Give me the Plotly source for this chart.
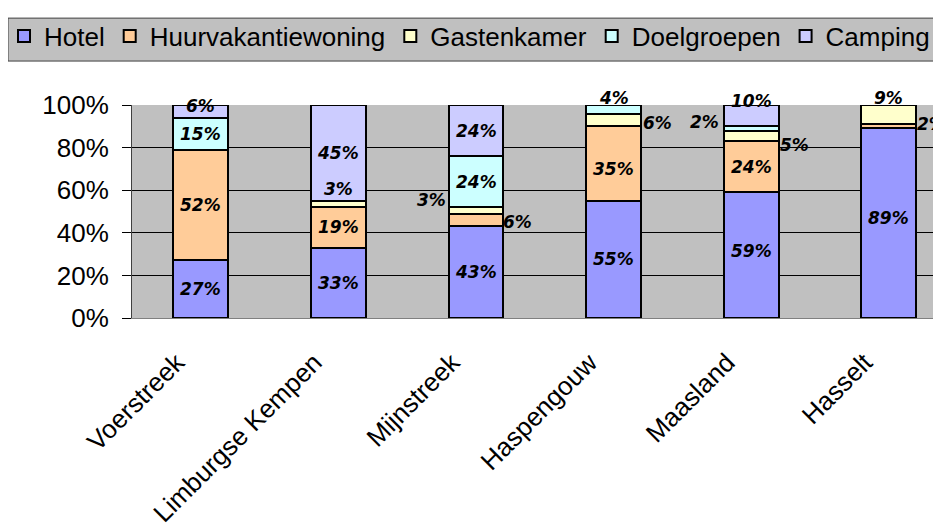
import plotly.graph_objects as go

categories = ["Voerstreek", "Limburgse Kempen", "Mijnstreek", "Haspengouw", "Maasland", "Hasselt"]
series_names = ["Hotel", "Huurvakantiewoning", "Gastenkamer", "Doelgroepen", "Camping"]
hotel = [27, 33, 43, 55, 59, 89]
huurvakantiewoning = [52, 19, 6, 35, 24, 2]
gastenkamer = [0, 3, 3, 6, 5, 9]
doelgroepen = [15, 0, 24, 4, 2, 0]
camping = [6, 45, 24, 0, 10, 0]
y_ticks = [0, 20, 40, 60, 80, 100]

series_values = [hotel, huurvakantiewoning, gastenkamer, doelgroepen, camping]
colors = ["#9999FF", "#FFCC99", "#FFFFCC", "#CCFFFF", "#CCCCFF"]

# label offsets (pixels) for labels that sit outside / away from their segment
label_shift = {
    ("Camping", "Voerstreek"): (0, 5),
    ("Gastenkamer", "Limburgse Kempen"): (0, 15),
    ("Huurvakantiewoning", "Mijnstreek"): (41, -2),
    ("Gastenkamer", "Mijnstreek"): (-45, 10),
    ("Huurvakantiewoning", "Haspengouw"): (0, -5),
    ("Gastenkamer", "Haspengouw"): (44, -3),
    ("Doelgroepen", "Haspengouw"): (0, 11),
    ("Camping", "Maasland"): (0, 15),
    ("Doelgroepen", "Maasland"): (-47, 6),
    ("Gastenkamer", "Maasland"): (43, -9),
    ("Hotel", "Maasland"): (0, 4),
    ("Hotel", "Hasselt"): (0, 5),
    ("Huurvakantiewoning", "Hasselt"): (43, 2),
    ("Gastenkamer", "Hasselt"): (0, 17),
}

fig = go.Figure()
for name, vals, col in zip(series_names, series_values, colors):
    fig.add_trace(go.Bar(
        name=name, x=categories, y=vals,
        marker=dict(color=col, line=dict(color="black", width=2)),
        hoverinfo="skip",
    ))

annotations = []
base = [0] * len(categories)
for name, vals in zip(series_names, series_values):
    for i, (c, v) in enumerate(zip(categories, vals)):
        if v > 0:
            dx, dy = label_shift.get((name, c), (0, 0))
            annotations.append(dict(
                x=c, y=base[i] + v / 2, xref="x", yref="y",
                text=f"{v}%", showarrow=False, xshift=dx, yshift=dy,
                font=dict(family="DejaVu Sans", size=17, color="black",
                          weight="bold", style="italic"),
            ))
        base[i] += v

# page body has an 8px margin: work in screen pixels, convert to figure pixels
OFF = 8
L, T, PW, PH = 132 - OFF, 105 - OFF, 809 + OFF, 213.3
W, H = 941, 527

def px_to_paper_x(px):
    return (px - OFF - L) / PW
def px_to_paper_y(py):
    return (T + PH - (py - OFF)) / PH

fig.update_layout(
    width=W, height=H,
    margin=dict(l=L, r=W - L - PW, t=T, b=H - T - PH, autoexpand=False),
    barmode="stack", bargap=0.603,
    paper_bgcolor="white", plot_bgcolor="#C0C0C0",
    font=dict(family="Liberation Sans, Arial, sans-serif", color="black"),
    showlegend=True,
    legend=dict(
        orientation="h", traceorder="normal",
        x=px_to_paper_x(4), xanchor="left",
        y=px_to_paper_y(36), yanchor="middle",
        bgcolor="rgba(0,0,0,0)", borderwidth=0,
        font=dict(family="Liberation Sans, Arial, sans-serif", size=26, color="black"),
        itemwidth=30, itemclick=False,
    ),
    shapes=[dict(
        type="rect", xref="paper", yref="paper",
        x0=px_to_paper_x(8), x1=px_to_paper_x(960),
        y0=px_to_paper_y(61), y1=px_to_paper_y(18),
        fillcolor="#C0C0C0", line=dict(color="#404040", width=1), layer="below",
    )],
    annotations=annotations,
    xaxis=dict(
        range=[-0.5, -0.5 + PW / 137.6], tickangle=-45,
        tickfont=dict(size=26, family="Liberation Sans, Arial, sans-serif"),
        showline=True, linecolor="#808080", linewidth=1,
        ticks="", showgrid=False, fixedrange=True, automargin=False,
        ticklabelstandoff=18, ticklabelshift=-24,
    ),
    yaxis=dict(
        range=[0, 100], tickvals=y_ticks, ticktext=[f"{t}%" for t in y_ticks],
        tickfont=dict(size=26, family="Liberation Sans, Arial, sans-serif"),
        showgrid=True, gridcolor="black", gridwidth=1,
        showline=True, linecolor="#404040", linewidth=1,
        ticks="outside", ticklen=9, tickcolor="black", zeroline=False,
        fixedrange=True, automargin=False, ticklabelstandoff=8,
    ),
)

fig.write_html("out.html")
